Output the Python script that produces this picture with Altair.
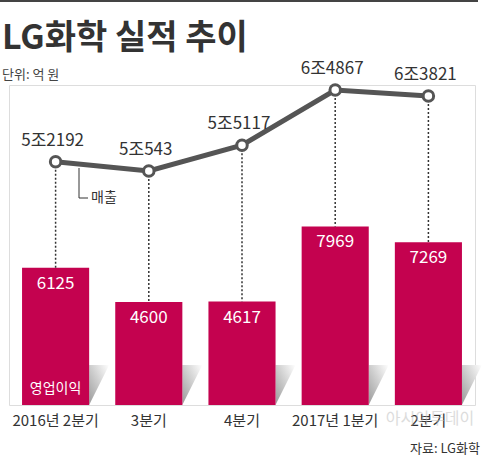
import altair as alt
import pandas as pd

quarters = ["2016년 2분기", "3분기", "4분기", "2017년 1분기", "2분기"]
profit = [6125, 4600, 4617, 7969, 7269]          # 영업이익 (억 원)
sales = [52192, 50543, 55117, 64867, 63821]      # 매출 (억 원)

df = pd.DataFrame({"q": quarters, "profit": profit, "sales": sales})
df["sales_label"] = [f"{s // 10000}조{s % 10000}" for s in sales]
df["first"] = [i == 0 for i in range(len(quarters))]

FONT = "Noto Sans CJK KR"
BAR_COLOR = "#C4024F"
LINE_COLOR = "#555555"

BAR_MAX = 14286
LINE_LO, LINE_HI = 9183, 65750
bar_scale = alt.Scale(domain=[0, BAR_MAX], nice=False, zero=False)
line_scale = alt.Scale(domain=[LINE_LO, LINE_HI], nice=False, zero=False)

x_enc = alt.X("q:N", sort=quarters, title=None,
              scale=alt.Scale(paddingInner=0.28, paddingOuter=0.14),
              axis=alt.Axis(labelFont=FONT, labelFontSize=15, labelColor="#333333",
                            labelAngle=0, ticks=False, tickSize=0, domain=False,
                            labelPadding=8, grid=False))

base = alt.Chart(df)

shadow_grad = alt.Gradient(
    gradient="linear", x1=0, y1=1, x2=1, y2=0,
    stops=[alt.GradientStop(color="#9a9a9a", offset=0),
           alt.GradientStop(color="#ffffff", offset=1)])

shadows = base.transform_calculate(zero="0").mark_point(
    shape="M -0.5 -1 L 0.5 -1 L -0.5 1 Z", size=1600, filled=True,
    fill=shadow_grad, strokeWidth=0, opacity=1, xOffset=43.5, yOffset=-20
).encode(x=x_enc, y=alt.Y("zero:Q", scale=bar_scale, axis=None))

bars = base.mark_bar(color=BAR_COLOR).encode(
    x=x_enc, y=alt.Y("profit:Q", scale=bar_scale, axis=None))

bar_text = base.mark_text(font=FONT, fontSize=17, color="white", baseline="middle", dy=16).encode(
    x=x_enc, y=alt.Y("profit:Q", scale=bar_scale, axis=None), text="profit:Q")

op_label = base.transform_filter("datum.first").transform_calculate(
    zero="0", lab="'영업이익'").mark_text(
    font=FONT, fontSize=14, color="white", baseline="middle", dy=-16).encode(
    x=x_enc, y=alt.Y("zero:Q", scale=bar_scale, axis=None), text="lab:N")

rules = base.transform_calculate(
    bar_top=f"{LINE_LO} + datum.profit * ({LINE_HI} - {LINE_LO}) / {BAR_MAX}"
).mark_rule(color="#333333", strokeWidth=1.5, strokeDash=[2, 2]).encode(
    x=x_enc, y=alt.Y("sales:Q", scale=line_scale, axis=None), y2="bar_top:Q")

line = base.mark_line(color=LINE_COLOR, strokeWidth=5).encode(
    x=x_enc, y=alt.Y("sales:Q", scale=line_scale, axis=None))

points = base.mark_point(filled=True, fill="white", stroke=LINE_COLOR, strokeWidth=3,
                         size=110, opacity=1).encode(
    x=x_enc, y=alt.Y("sales:Q", scale=line_scale, axis=None))

line_text = base.mark_text(font=FONT, fontSize=17, color="#333333", baseline="middle",
                           dy=-21, dx=-3).encode(
    x=x_enc, y=alt.Y("sales:Q", scale=line_scale, axis=None), text="sales_label:N")

one = alt.Chart(df.head(1))

# 매출 annotation
ann_v = one.mark_rule(color="#333333", strokeWidth=1).encode(
    x=alt.value(70), y=alt.value(83), y2=alt.value(113))
ann_h = one.mark_rule(color="#333333", strokeWidth=1).encode(
    x=alt.value(70), x2=alt.value(79), y=alt.value(113))
ann_t = one.mark_text(font=FONT, fontSize=14, color="#333333",
                      align="left", baseline="middle").encode(
    x=alt.value(82), y=alt.value(113), text=alt.value("매출"))

top_border = one.mark_rule(color="#444444", strokeWidth=2).encode(
    x=alt.value(-9), x2=alt.value(469), y=alt.value(-84))

title_t = one.mark_text(font=FONT, fontSize=34, fontWeight="bold", color="#333333",
                        align="left", baseline="middle").encode(
    x=alt.value(-7), y=alt.value(-46), text=alt.value("LG화학 실적 추이"))
subtitle_t = one.mark_text(font=FONT, fontSize=13, color="#444444",
                           align="left", baseline="middle").encode(
    x=alt.value(-7), y=alt.value(-10), text=alt.value("단위: 억 원"))

source = one.mark_text(font=FONT, fontSize=13, color="#333333",
                       align="right", baseline="middle").encode(
    x=alt.value(471), y=alt.value(364), text=alt.value("자료: LG화학"))

watermark = one.mark_text(font=FONT, fontSize=16, color="#bbbbbb",
                          opacity=0.5, align="center", baseline="middle").encode(
    x=alt.value(421), y=alt.value(334), text=alt.value("아시아투데이"))

chart = alt.layer(
    shadows, bars, bar_text, op_label, rules, line, points, line_text,
    ann_v, ann_h, ann_t, top_border, title_t, subtitle_t, source, watermark
).resolve_scale(y="independent").properties(
    width=466, height=320,
    autosize=alt.AutoSizeParams(type="none"),
    padding={"left": 9, "top": 85, "right": 25, "bottom": 52},
).configure_view(stroke="transparent", strokeWidth=0).configure(background="white")

chart.save("out.html", embed_options={"renderer": "svg", "actions": False})
